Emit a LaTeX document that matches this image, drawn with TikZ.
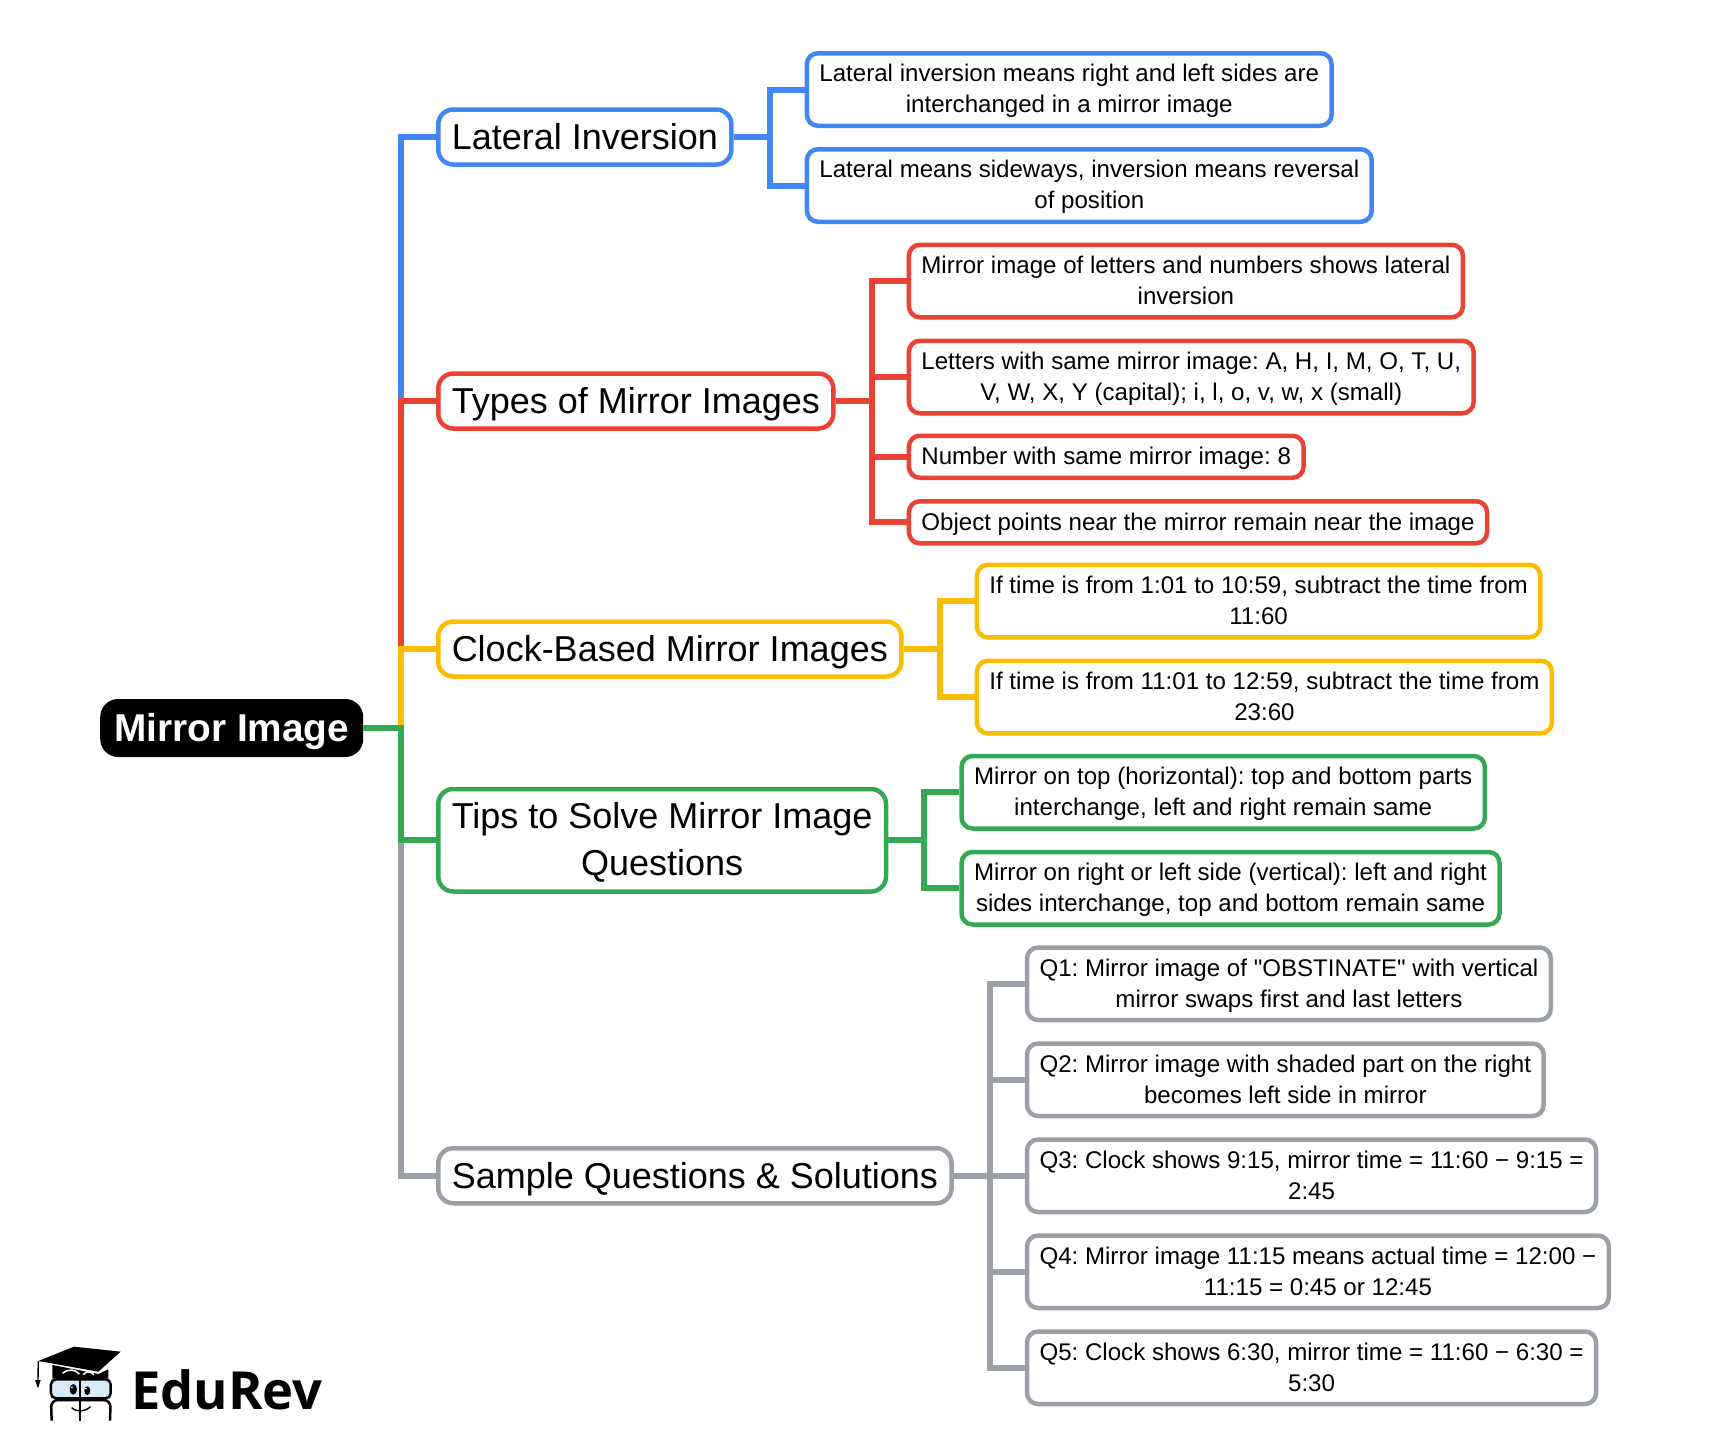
\documentclass[tikz,border=0pt]{standalone}
\usepackage{fontspec}
\newfontfamily\chartfont{Liberation Sans}
\newfontfamily\logofont{Open Sans}
\usepackage{tikz}
\usetikzlibrary{positioning}
\definecolor{lineblue}{HTML}{4285F4}
\definecolor{linered}{HTML}{EA4335}
\definecolor{lineyellow}{HTML}{FBBC04}
\definecolor{linegreen}{HTML}{34A853}
\definecolor{linegray}{HTML}{9AA0A6}
\definecolor{glassblue}{HTML}{D6EAF8}
\newcommand{\nodestrut}{\rule[-.22em]{0pt}{1.12em}}
\newcommand{\twolinestrut}{\rule{0pt}{\dimexpr\baselineskip+.88em\relax}}
\tikzset{chart text/.style={inner ysep=0pt,align=center,execute at begin node=\nodestrut},
	root node/.style={chart text,rectangle,rounded corners=18pt,fill=black,text=white,inner xsep=14pt,minimum height=58pt,font=\chartfont\fontsize{38.8}{47}\selectfont\bfseries},
	main node/.style={chart text,rectangle,rounded corners=15pt,draw,fill=white,line width=4.5pt,inner xsep=13.5pt,minimum height=55pt,font=\chartfont\frenchspacing\fontsize{36}{47}\selectfont},
	sub node/.style={chart text,rectangle,rounded corners=11pt,draw,fill=white,line width=4.5pt,inner xsep=12.5pt,minimum height=42pt,font=\chartfont\frenchspacing\fontsize{24.1}{31}\selectfont},
	two line/.style={minimum height=72.5pt,execute at begin node=\twolinestrut},
	link/.style={line width=6pt},}

\begin{document}
\begin{tikzpicture}[x=1pt,y=-1pt]
	\useasboundingbox (0,0) rectangle (1713,1456);

	\node[root node,anchor=west] (root) at (100,728) {Mirror Image};
	\coordinate (trunk) at (400.5,728);

	\node[main node,draw=lineblue,anchor=west] (lat) at (436,137) {Lateral Inversion};
	\node[main node,draw=linered] (types) [below=204.5pt of lat.south west,anchor=north west] {Types of Mirror Images};
	\node[main node,draw=lineyellow] (clock) [below=188.5pt of types.south west,anchor=north west] {Clock-Based Mirror Images};
	\node[main node,two line,draw=linegreen,minimum height=102.5pt] (tips) [below=108pt of clock.south west,anchor=north west] {Tips to Solve Mirror Image\\Questions};
	\node[main node,draw=linegray] (sample) [below=252.25pt of tips.south west,anchor=north west] {Sample Questions \& Solutions};

	\node[sub node,two line,draw=lineblue] (lat1) [right=71pt of lat.east,anchor=west,yshift=47.5pt] {Lateral inversion means right and left sides are\\interchanged in a mirror image};
	\node[sub node,two line,draw=lineblue] (lat2) [below=19pt of lat1.south west,anchor=north west] {Lateral means sideways, inversion means reversal\\of position};

	\node[sub node,two line,draw=linered] (types1) [right=71pt of types.east,anchor=west,yshift=120pt] {Mirror image of letters and numbers shows lateral\\inversion};
	\node[sub node,two line,draw=linered] (types2) [below=19pt of types1.south west,anchor=north west] {Letters with same mirror image: A, H, I, M, O, T, U,\\V, W, X, Y (capital); i, l, o, v, w, x (small)};
	\node[sub node,draw=linered] (types3) [below=18pt of types2.south west,anchor=north west] {Number with same mirror image: 8};
	\node[sub node,draw=linered] (types4) [below=19pt of types3.south west,anchor=north west] {Object points near the mirror remain near the image};

	\node[sub node,two line,draw=lineyellow] (clock1) [right=71pt of clock.east,anchor=west,yshift=48pt] {If time is from 1:01 to 10:59, subtract the time from\\11:60};
	\node[sub node,two line,draw=lineyellow] (clock2) [below=19pt of clock1.south west,anchor=north west] {If time is from 11:01 to 12:59, subtract the time from\\23:60};

	\node[sub node,two line,draw=linegreen] (tips1) [right=71pt of tips.east,anchor=west,yshift=48pt] {Mirror on top (horizontal): top and bottom parts\\interchange, left and right remain same};
	\node[sub node,two line,draw=linegreen] (tips2) [below=19pt of tips1.south west,anchor=north west] {Mirror on right or left side (vertical): left and right\\sides interchange, top and bottom remain same};

	\node[sub node,two line,draw=linegray] (sample1) [right=71pt of sample.east,anchor=west,yshift=192pt] {Q1: Mirror image of "OBSTINATE" with vertical\\mirror swaps first and last letters};
	\node[sub node,two line,draw=linegray] (sample2) [below=19pt of sample1.south west,anchor=north west] {Q2: Mirror image with shaded part on the right\\becomes left side in mirror};
	\node[sub node,two line,draw=linegray] (sample3) [below=19pt of sample2.south west,anchor=north west] {Q3: Clock shows 9:15, mirror time = 11:60 − 9:15 =\\2:45};
	\node[sub node,two line,draw=linegray] (sample4) [below=19pt of sample3.south west,anchor=north west] {Q4: Mirror image 11:15 means actual time = 12:00 −\\11:15 = 0:45 or 12:45};
	\node[sub node,two line,draw=linegray] (sample5) [below=19pt of sample4.south west,anchor=north west] {Q5: Clock shows 6:30, mirror time = 11:60 − 6:30 =\\5:30};

	\coordinate[right=36pt of lat.east] (lathub);
	\coordinate[right=36pt of types.east] (typeshub);
	\coordinate[right=36pt of clock.east] (clockhub);
	\coordinate[right=36pt of tips.east] (tipshub);
	\coordinate[right=36pt of sample.east] (samplehub);

	\draw[link,lineblue] (trunk) |- (lat.west);
	\draw[link,lineblue] (lat.east) -- (lathub) |- (lat1.west);
	\draw[link,lineblue] (lathub) |- (lat2.west);

	\draw[link,linered] (trunk) |- (types.west);
	\draw[link,linered] (types.east) -- (typeshub) |- (types1.west);
	\draw[link,linered] (typeshub) |- (types2.west);
	\draw[link,linered] (typeshub) |- (types3.west);
	\draw[link,linered] (typeshub) |- (types4.west);

	\draw[link,lineyellow] (trunk) |- (clock.west);
	\draw[link,lineyellow] (clock.east) -- (clockhub) |- (clock1.west);
	\draw[link,lineyellow] (clockhub) |- (clock2.west);

	\draw[link,linegray] (trunk) |- (sample.west);
	\draw[link,linegray] (sample.east) -- (samplehub) |- (sample1.west);
	\draw[link,linegray] (samplehub) |- (sample2.west);
	\draw[link,linegray] (samplehub) |- (sample3.west);
	\draw[link,linegray] (samplehub) |- (sample4.west);
	\draw[link,linegray] (samplehub) |- (sample5.west);

	\draw[link,linegreen] (root.east) -- (trunk) |- (tips.west);
	\draw[link,linegreen] (tips.east) -- (tipshub) |- (tips1.west);
	\draw[link,linegreen] (tipshub) |- (tips2.west);

	\node[anchor=west,inner sep=0pt,font=\logofont\fontsize{52.5}{60}\selectfont\bfseries] (logo) at (131,1390) {EduRev};
	\begin{scope}[shift={(0,1300)},x=0.3333pt,y=-0.3333pt]
		\fill (115,183) -- (222,140) -- (362,155) -- (295,215) -- cycle;
		\fill (157,195) -- (295,222) -- (325,208) -- (325,236) -- (157,236) -- cycle;
		\draw[white,line width=1.5pt] (188,220) .. controls (205,205) and (225,208) .. (238,222);
		\draw[white,line width=1.5pt] (250,224) .. controls (258,212) and (272,214) .. (282,224);
		\draw[line width=1.4pt] (115,183) -- (114,240);
		\fill (105,240) -- (122,240) -- (114,265) -- cycle;
		\draw[line width=2.5pt,fill=glassblue,rounded corners=5pt] (153,238) rectangle (332,295);
		\draw[line width=2.5pt,rounded corners=7pt] (155,362) -- (153,300) -- (332,300) -- (330,362);
		\draw[line width=2pt] (240,230) -- (240,364);
		\fill (220,268) ellipse [x radius=11,y radius=16];
		\fill (262,272) ellipse [x radius=9,y radius=13];
		\fill[white] (216,262) circle [radius=3] (258,266) circle [radius=3];
		\draw[line width=1.4pt] (215,323) .. controls (232,338) and (255,335) .. (272,320);
	\end{scope}
\end{tikzpicture}
\end{document}
